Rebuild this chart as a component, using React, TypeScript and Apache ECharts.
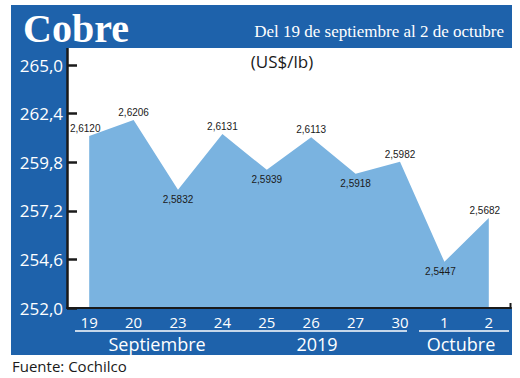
import React, { useEffect, useRef } from "react";
import * as echarts from "echarts";

const days = ["19", "20", "23", "24", "25", "26", "27", "30", "1", "2"];
// Price in US cents per lb (labels show US$/lb)
const prices = [261.2, 262.06, 258.32, 261.31, 259.39, 261.13, 259.18, 259.82, 254.47, 256.82];
const yTicks = [252, 254.6, 257.2, 259.8, 262.4, 265];
const labelPlacement = ["top", "top", "bottom", "top", "bottom", "top", "bottom", "top", "bottom", "top"];

const BLUE = "#1E62AB";
const AREA = "#7AB3E0";
const SANS = "'Open Sans', 'Noto Sans', sans-serif";
const SERIF = "'Liberation Serif', 'DejaVu Serif', serif";
const NARROW = "'Liberation Sans', Arial, sans-serif";

export default function App() {
  const ref = useRef<HTMLDivElement>(null);
  useEffect(() => {
    if (!ref.current) return;
    const chart = echarts.init(ref.current, null, { renderer: "svg" });
    const fmt1 = (v: number) => v.toFixed(1).replace(".", ",");
    const data = prices.map((v, i) => ({
      value: v,
      label: {
        position: labelPlacement[i],
        distance: labelPlacement[i] === "top" ? 2 : 4,
        offset: i === 0 || i === 8 || i === 9 ? [-4, 0] : [0, 0],
      },
    }));
    const textStyle = (size: number) => `${size}px ${SANS}`;
    chart.setOption({
      animation: false,
      backgroundColor: "#ffffff",
      grid: { left: 67, right: 9, top: 65, bottom: 70 },
      xAxis: {
        type: "category",
        data: days,
        boundaryGap: true,
        axisLine: { show: true, lineStyle: { color: "#1a1a1a", width: 2 } },
        axisTick: { show: false },
        axisLabel: { color: "#ffffff", fontSize: 15, lineHeight: 15, fontFamily: SANS, margin: 6 },
        splitLine: { show: false },
        z: 10,
      },
      yAxis: {
        type: "value",
        min: 252,
        max: 265,
        axisLine: { show: false },
        axisTick: {
          show: true,
          inside: true,
          length: 10,
          customValues: yTicks,
          lineStyle: { color: "#1a1a1a", width: 2.5 },
        },
        axisLabel: {
          color: "#ffffff",
          fontSize: 17,
          fontFamily: SANS,
          margin: 4,
          customValues: yTicks,
          formatter: (v: number) => fmt1(v),
        },
        splitLine: { show: false },
      },
      series: [
        {
          type: "line",
          data,
          symbol: "circle",
          symbolSize: 1,
          showSymbol: true,
          itemStyle: { color: "rgba(0,0,0,0)" },
          lineStyle: { width: 0, color: AREA },
          areaStyle: { color: AREA, opacity: 1 },
          label: {
            show: true,
            color: "#1a1a1a",
            fontSize: 10,
            fontFamily: NARROW,
            formatter: (p: any) => (p.value / 100).toFixed(4).replace(".", ","),
          },
        },
      ],
      graphic: [
        { type: "rect", shape: { x: 11, y: 5, width: 501, height: 43 }, style: { fill: BLUE }, z: -10 },
        { type: "rect", shape: { x: 11, y: 5, width: 56, height: 350 }, style: { fill: BLUE }, z: -10 },
        { type: "rect", shape: { x: 11, y: 309, width: 501, height: 46 }, style: { fill: BLUE }, z: -10 },
        { type: "line", shape: { x1: 67.5, y1: 48, x2: 67.5, y2: 309 }, style: { stroke: "#1a1a1a", lineWidth: 2.5 }, z: 20 },
        { type: "line", shape: { x1: 510.5, y1: 303, x2: 510.5, y2: 309 }, style: { stroke: "#1a1a1a", lineWidth: 2 }, z: 20 },
        { type: "line", shape: { x1: 75, y1: 331, x2: 407, y2: 331 }, style: { stroke: "#ffffff", lineWidth: 1.5 } },
        { type: "line", shape: { x1: 419, y1: 331, x2: 509, y2: 331 }, style: { stroke: "#ffffff", lineWidth: 1.5 } },
        {
          type: "text", x: 23, y: 28,
          style: { text: "Cobre", fill: "#ffffff", font: `bold 40px ${SERIF}`, verticalAlign: "middle", align: "left" },
        },
        {
          type: "text", x: 504, y: 31,
          style: { text: "Del 19 de septiembre al 2 de octubre", fill: "#ffffff", font: `17px ${SERIF}`, verticalAlign: "middle", align: "right" },
        },
        {
          type: "text", x: 282, y: 61,
          style: { text: "(US$/lb)", fill: "#1a1a1a", font: textStyle(17), verticalAlign: "middle", align: "center" },
        },
        {
          type: "text", x: 157, y: 344,
          style: { text: "Septiembre", fill: "#ffffff", font: textStyle(18), lineHeight: 18, verticalAlign: "middle", align: "center" },
        },
        {
          type: "text", x: 317, y: 344,
          style: { text: "2019", fill: "#ffffff", font: textStyle(18), lineHeight: 18, verticalAlign: "middle", align: "center" },
        },
        {
          type: "text", x: 461, y: 344,
          style: { text: "Octubre", fill: "#ffffff", font: textStyle(18), lineHeight: 18, verticalAlign: "middle", align: "center" },
        },
        {
          type: "text", x: 12, y: 366,
          style: { text: "Fuente: Cochilco", fill: "#1a1a1a", font: textStyle(15), verticalAlign: "middle", align: "left" },
        },
      ],
    });
    return () => chart.dispose();
  }, []);
  return <div ref={ref} style={{ width: 520, height: 378, position: "absolute", left: 0, top: 0 }} />;
}
